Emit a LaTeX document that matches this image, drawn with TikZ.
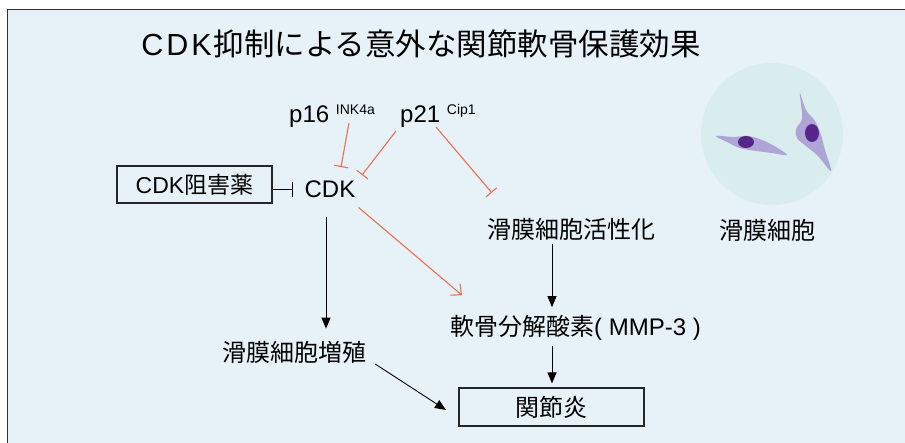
\documentclass[tikz,border=0pt]{standalone}
\usepackage{fontspec}
\setmainfont{Liberation Sans}
\newfontfamily\jp{Noto Sans CJK JP}
\usetikzlibrary{arrows.meta,calc}
\definecolor{bgc}{RGB}{230,242,248}
\definecolor{redc}{RGB}{240,110,80}
\definecolor{circc}{RGB}{217,236,238}
\definecolor{cellc}{RGB}{160,140,205}
\definecolor{nucc}{RGB}{88,38,138}
\tikzset{
  txt/.style={inner sep=0pt, font=\fontsize{24}{28}\selectfont},
  boxn/.style={draw=black!85, line width=1.1pt, inner sep=0pt, font=\fontsize{23}{28}\selectfont},
  inhred/.style={draw=redc, line width=1.1pt, -{Bar[width=14pt,line width=1.1pt]}},
  inhblk/.style={draw=black, line width=1pt, -{Bar[width=15pt,line width=1pt]}},
  actred/.style={draw=redc, line width=1.1pt, -{Straight Barb[length=8pt,width=15pt,line width=1.1pt]}},
  actblk/.style={draw=black, line width=0.9pt, -{Triangle[length=11pt,width=9pt]}},
}
\begin{document}
\begin{tikzpicture}[x=1pt,y=-1pt]
\useasboundingbox (0,0) rectangle (905,443);
\fill[white] (0,0) rectangle (905,443);
\fill[bgc] (7.5,9.5) rectangle (905,443);
\draw[line width=1.6pt, black!80] (7.5,443) -- (7.5,9.5) -- (905,9.5);

% title
\node[inner sep=0pt, font=\fontsize{30.5}{34}\selectfont] (title) at (421,44)
  {C\kern3pt D\kern3pt K\kern2pt{\jp 抑制による意外な関節軟骨保護効果}};

% cell picture
\fill[circc] (772,134) circle (71);
\fill[cellc, opacity=0.75] plot[smooth cycle, tension=0.6] coordinates
  {(716,136) (734,137) (748,136) (762,140) (776,147) (787,155) (772,153) (756,151) (740,148) (727,142)};
\fill[nucc] (746,142) ellipse (8 and 6);
\fill[cellc, opacity=0.75] plot[smooth cycle, tension=0.6] coordinates
  {(800,93) (806,110) (815,121) (821,135) (825,150) (831,171) (818,156) (806,146) (797,138) (796,129) (802,119) (801,104)};
\fill[nucc] (812,133) ellipse (7 and 9);
\node[txt] (cellname) at (767,230) {\jp 滑膜細胞};

% nodes
\node[txt, anchor=base west] (p16) at (289,123)
  {p16 \raisebox{8pt}{\fontsize{14}{16}\selectfont INK4a}};
\node[txt, anchor=base west] (p21) at (400,123)
  {p21 \raisebox{8pt}{\fontsize{14}{16}\selectfont Cip1}};
\node[boxn, minimum width=155pt, minimum height=37pt] (drug) at (194.5,184.5)
  {CDK{\jp 阻害薬}};
\node[txt, anchor=base] (CDK) at (330,198) {CDK};
\node[txt] (act) at (571,229) {\jp 滑膜細胞活性化};
\node[txt] (mmp) at (575.5,328) {{\jp 軟骨分解酸素}( MMP-3 )};
\node[txt] (prolif) at (294.5,352) {\jp 滑膜細胞増殖};
\node[boxn, font=\fontsize{24}{28}\selectfont, minimum width=185pt, minimum height=38pt] (arth) at (551.5,407)
  {\jp 関節炎};

% connectors
\draw[inhblk] (drug.east |- CDK.west) -- ($(CDK.west)+(-11,0)$);
\draw[inhred] ($(p16.base west)+(60,0)$) -- ($(CDK.north)+(11,-14)$);
\draw[inhred] ($(p21.base west)+(-4,8)$) -- ($(CDK.north)+(32,-6)$);
\draw[inhred] ($(p21.base west)+(36,4)$) -- ($(act.north west)+(5,-25)$);
\draw[actred] ($(CDK.south east)+(3,9)$) -- ($(mmp.north west)+(12,-20)$);
\draw[actblk] ($(CDK.south)+(-4,19)$) -- ($(prolif.north)+(31.5,-12)$);
\draw[actblk] ($(act.south)+(-19,4)$) -- ($(mmp.north)+(-23.5,-8)$);
\draw[actblk] ($(mmp.south)+(-23.5,5)$) -- ($(arth.north)+(0.5,-4)$);
\draw[actblk] ($(prolif.east)+(8.5,12)$) -- ($(arth.west)+(-12.5,3)$);
\end{tikzpicture}
\end{document}
